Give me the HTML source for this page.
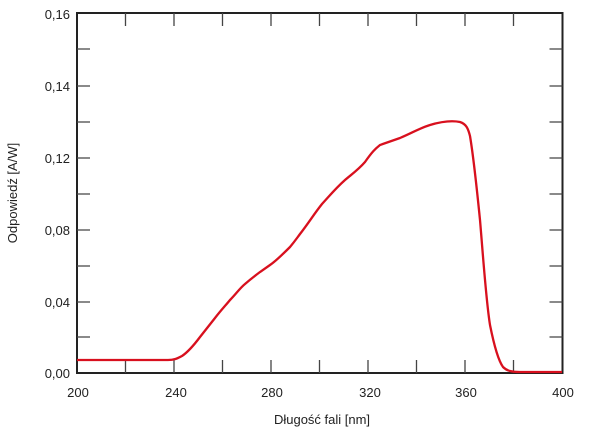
<!DOCTYPE html>
<html><head><meta charset="utf-8"><style>body{margin:0;background:#fff}</style></head><body>
<svg width="600" height="431" xmlns="http://www.w3.org/2000/svg" font-family="Liberation Sans, sans-serif" font-size="13" fill="#222">
<rect x="77" y="13" width="485.5" height="360" fill="none" stroke="#222" stroke-width="2"/>
<g stroke="#444" stroke-width="1.3">
<path d="M125.5,373v-13M174,373v-13M222.5,373v-13M271,373v-13M319.5,373v-13M368,373v-13M416.5,373v-13M465,373v-13M513.5,373v-13"/>
<path d="M125.5,13v13M174,13v13M222.5,13v13M271,13v13M319.5,13v13M368,13v13M416.5,13v13M465,13v13M513.5,13v13"/>
<path d="M77,49h13M77,86h13M77,122h13M77,158h13M77,194h13M77,230h13M77,266h13M77,302h13M77,337h13"/>
<path d="M562.5,49h-13M562.5,86h-13M562.5,122h-13M562.5,158h-13M562.5,194h-13M562.5,230h-13M562.5,266h-13M562.5,302h-13M562.5,337h-13"/>
</g>
<g text-anchor="end">
<text x="70" y="19">0,16</text><text x="70" y="91">0,14</text><text x="70" y="163">0,12</text>
<text x="70" y="235">0,08</text><text x="70" y="307">0,04</text><text x="70" y="378">0,00</text>
</g>
<g text-anchor="middle">
<text x="78" y="397">200</text><text x="176" y="397">240</text><text x="272" y="397">280</text>
<text x="370" y="397">320</text><text x="466" y="397">360</text><text x="563" y="397">400</text>
<text x="322" y="424">Długość fali [nm]</text>
<text transform="translate(17,193) rotate(-90)">Odpowiedź [A/W]</text>
</g>
<path fill="none" stroke="#d8101e" stroke-width="2.3" d="M77,360 L168,360 C175,360 178,358 182,356 C188,352 194,345 200,337 L215,318 C222,309 226,305 230,300 C236,294 240,288 245,284 C252,278 256,275 260,272 L270,265 C276,261 282,255 290,247 C295,241 297,238 300,234 C310,221 314,214 322,204 C332,193 336,188 345,180 C352,174 358,170 365,162 C372,152 375,149 380,145 L400,138 C412,133 420,128 430,125 C440,122 450,120 460,122 C466,124 468,128 470,136 C474,160 477,190 480,220 C483,255 486,300 490,325 C494,345 498,360 503,367 C507,371 512,372 520,372 L562,372"/>
</svg>
</body></html>
